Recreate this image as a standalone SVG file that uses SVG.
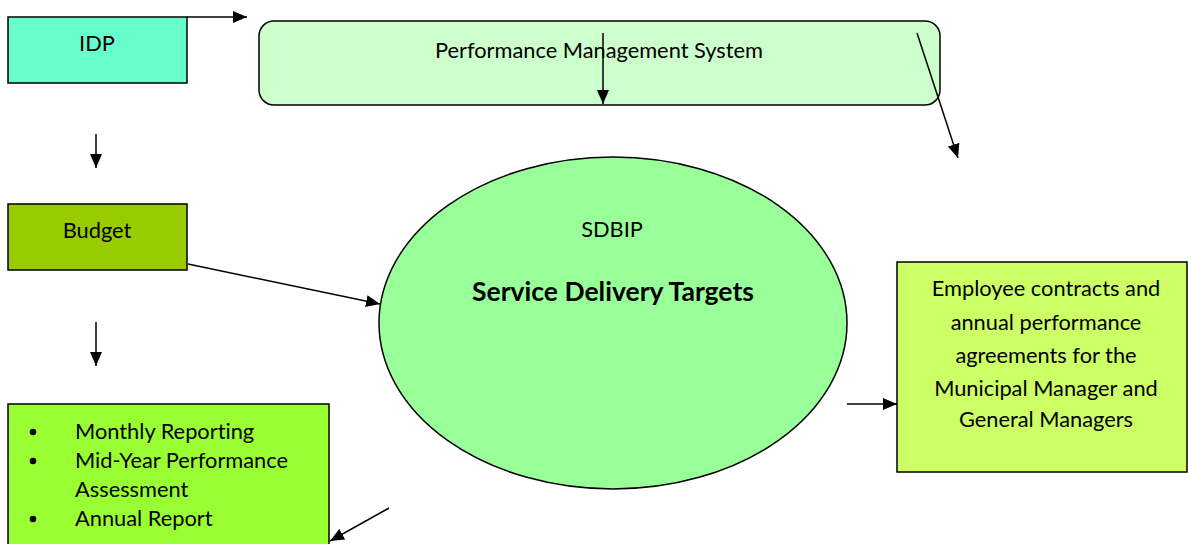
<svg xmlns="http://www.w3.org/2000/svg" width="1188" height="544" viewBox="0 0 1188 544">
<style>
text{font-family:Lato,"Open Sans","Liberation Sans",sans-serif;font-size:21.8px;fill:#000;font-variant-ligatures:none}
.c{text-anchor:middle}
.b{font-weight:bold;font-size:26.5px}
.box{stroke:#000;stroke-width:1.5}
.ln{stroke:#000;stroke-width:1.5;fill:none;marker-end:url(#ah)}
</style>
<defs>
<marker id="ah" markerWidth="14" markerHeight="12" refX="14" refY="6" orient="auto" markerUnits="userSpaceOnUse">
<path d="M0,0 L14,6 L0,12 Z" fill="#000"/>
</marker>
</defs>
<rect width="1188" height="544" fill="#fff"/>
<g id="idp"><rect class="box" x="8" y="17" width="179" height="66" fill="#66FFCC"/><text class="c" x="97" y="51">IDP</text></g>
<g id="pms"><rect class="box" x="259" y="21" width="681" height="84" rx="15" fill="#CCFFCC"/><text class="c" x="599" y="58">Performance Management System</text></g>
<g id="budget"><rect class="box" x="8" y="204" width="179" height="66" fill="#99CC00"/><text class="c" x="97" y="238">Budget</text></g>
<g id="sdbip"><ellipse class="box" cx="613" cy="323" rx="234" ry="166" fill="#99FF99"/><text class="c" x="612" y="237">SDBIP</text><text class="c b" x="613" y="301">Service Delivery Targets</text></g>
<g id="reporting"><rect class="box" x="8" y="404" width="321" height="150" fill="#99FF33"/>
<circle cx="33" cy="432" r="3.3"/><circle cx="33" cy="461" r="3.3"/><circle cx="33" cy="519" r="3.3"/>
<text x="75" y="439">Monthly Reporting</text><text x="75" y="468">Mid-Year Performance</text><text x="75" y="497">Assessment</text><text x="75" y="526">Annual Report</text></g>
<g id="employee"><rect class="box" x="897" y="262" width="290" height="210" fill="#CCFF66"/>
<text class="c" x="1046" y="296">Employee contracts and</text><text class="c" x="1046" y="330">annual performance</text><text class="c" x="1046" y="363">agreements for the</text><text class="c" x="1046" y="396">Municipal Manager and</text><text class="c" x="1046" y="427">General Managers</text></g>
<g id="connectors">
<line class="ln" x1="187" y1="17" x2="247" y2="17"/>
<line class="ln" x1="603" y1="33" x2="603" y2="104"/>
<line class="ln" x1="917" y1="33" x2="958" y2="158"/>
<line class="ln" x1="96" y1="134" x2="96" y2="168"/>
<line class="ln" x1="96" y1="322" x2="96" y2="366"/>
<line class="ln" x1="188" y1="264" x2="380" y2="304"/>
<line class="ln" x1="389" y1="508" x2="330" y2="541"/>
<line class="ln" x1="847" y1="404" x2="897" y2="404"/>
</g>
</svg>
